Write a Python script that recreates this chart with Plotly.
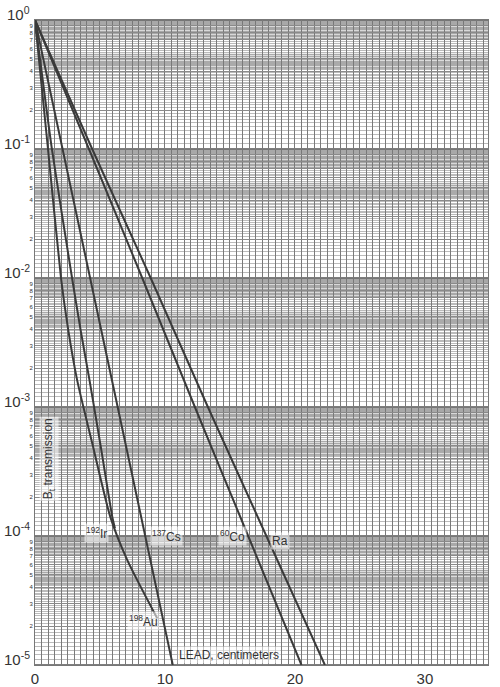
import numpy as np
import plotly.graph_objects as go

# ---- data ----
ra_x = [0, 4.4, 8.9, 13.3, 17.8, 22.3]
ra_t = [1, 1e-1, 1e-2, 1e-3, 1e-4, 1e-5]

co_x = [0, 4.15, 8.25, 12.3, 16.4, 20.5]
co_t = [1, 1e-1, 1e-2, 1e-3, 1e-4, 1e-5]

cs_x = [0, 10.6]
cs_t = [1, 1e-5]

ir_x = [0, 1.3, 2.85, 3.5, 4.2, 5.05, 5.95, 6.15]
ir_t = [1, 1e-1, 1e-2, 4e-3, 1.6e-3, 5e-4, 1.4e-4, 1.15e-4]

au_x = [0, 1.0, 2.0, 2.55, 3.25, 4.45, 5.8, 7.1, 9.4]
au_t = [1, 1e-1, 1e-2, 4e-3, 1.6e-3, 5e-4, 1.4e-4, 6.5e-5, 2.3e-5]

x_ticks = [0, 10, 20, 30]
decades = [0, -1, -2, -3, -4, -5]
sub_digits = [2, 3, 4, 5, 6, 7, 8, 9]

labels = [
    ("<sup>192</sup>Ir", 3.8, 1.05e-4),
    ("<sup>137</sup>Cs", 8.85, 1.0e-4),
    ("<sup>60</sup>Co", 14.1, 1.0e-4),
    ("Ra", 18.1, 0.92e-4),
    ("<sup>198</sup>Au", 7.1, 2.2e-5),
]

line_color = "#3a3a3a"
text_font = "Liberation Sans"

fig = go.Figure()
for xs, ts in [(ra_x, ra_t), (co_x, co_t), (cs_x, cs_t), (ir_x, ir_t), (au_x, au_t)]:
    fig.add_trace(go.Scatter(x=xs, y=ts, mode="lines",
                             line=dict(color=line_color, width=2, shape="spline", smoothing=0.6),
                             showlegend=False, hoverinfo="skip"))

# y ticks: sub-decade digits
ytv, ytt = [], []
for d in decades:
    for s in sub_digits:
        v = s * 10.0 ** (d - 1)
        if v >= 10.0 ** decades[-1]:
            ytv.append(v)
            ytt.append(str(s))

# log-paper minor grid
minor_vals = []
for d in range(-5, 0):
    base = 10.0 ** d
    for v in np.concatenate([np.arange(1.0, 2.0, 0.1), np.arange(2.0, 5.0, 0.1), np.arange(5.0, 10.0, 0.2)]):
        minor_vals.append(v * base)

fig.update_layout(
    width=500, height=687,
    margin=dict(l=35, r=12, t=20, b=22),
    paper_bgcolor="white", plot_bgcolor="white",
    font=dict(family=text_font, color="#333"),
    xaxis=dict(range=[0, 34.85], tickvals=x_ticks, ticks="", showline=True, automargin=False,
               linecolor="#777", mirror=True, zeroline=False,
               showgrid=True, gridcolor="#7a7a7a", gridwidth=1,
               tickfont=dict(size=15, color="#333"),
               minor=dict(dtick=0.5, showgrid=True, gridcolor="#7a7a7a", gridwidth=1)),
    yaxis=dict(type="log", range=[-5, 0], tickvals=ytv, ticktext=ytt, automargin=False,
               ticks="", showline=True, linecolor="#777", mirror=True,
               showgrid=True, gridcolor="#8a8a8a", gridwidth=1,
               tickfont=dict(size=6, color="#333"),
               minor=dict(tickmode="array", tickvals=minor_vals, showgrid=True,
                          gridcolor="rgba(120,120,120,0.5)", gridwidth=1)),
)

# paper shading bands + decade lines
for d in decades[:-1]:
    top = 10.0 ** d
    fig.add_shape(type="rect", xref="paper", x0=0, x1=1, yref="y", y0=top * 0.7, y1=top,
                  fillcolor="rgba(120,120,120,0.28)", line_width=0, layer="below")
    fig.add_shape(type="rect", xref="paper", x0=0, x1=1, yref="y", y0=top * 0.42, y1=top * 0.55,
                  fillcolor="rgba(120,120,120,0.25)", line_width=0, layer="below")
for d in decades:
    fig.add_shape(type="line", xref="paper", x0=0, x1=1, yref="y", y0=10.0 ** d, y1=10.0 ** d,
                  line=dict(color="#555", width=1.5), layer="below")
    fig.add_annotation(text="10<sup>%d</sup>" % d, x=0, xref="paper", xanchor="right", xshift=-3,
                       y=d, yref="y", yanchor="bottom", yshift=-5, showarrow=False,
                       font=dict(size=15, color="#333"))

for txt, x, y in labels:
    fig.add_annotation(text=txt, x=x, y=np.log10(y), showarrow=False, xanchor="left",
                       font=dict(size=12, color="#333"), bgcolor="rgba(255,255,255,0.55)")

fig.add_annotation(text="B<sub>t</sub> transmission", x=1.05, y=-3.4,
                   textangle=-90, showarrow=False, font=dict(size=12, color="#333"),
                   bgcolor="rgba(255,255,255,0.55)")
fig.add_annotation(text="LEAD, centimeters", x=10.9, xanchor="left", y=-4.92,
                   showarrow=False, font=dict(size=12, color="#333"),
                   bgcolor="rgba(255,255,255,0.55)")

fig.write_html("out.html", config={"displayModeBar": False},
               post_script="document.body.style.margin='0';")
